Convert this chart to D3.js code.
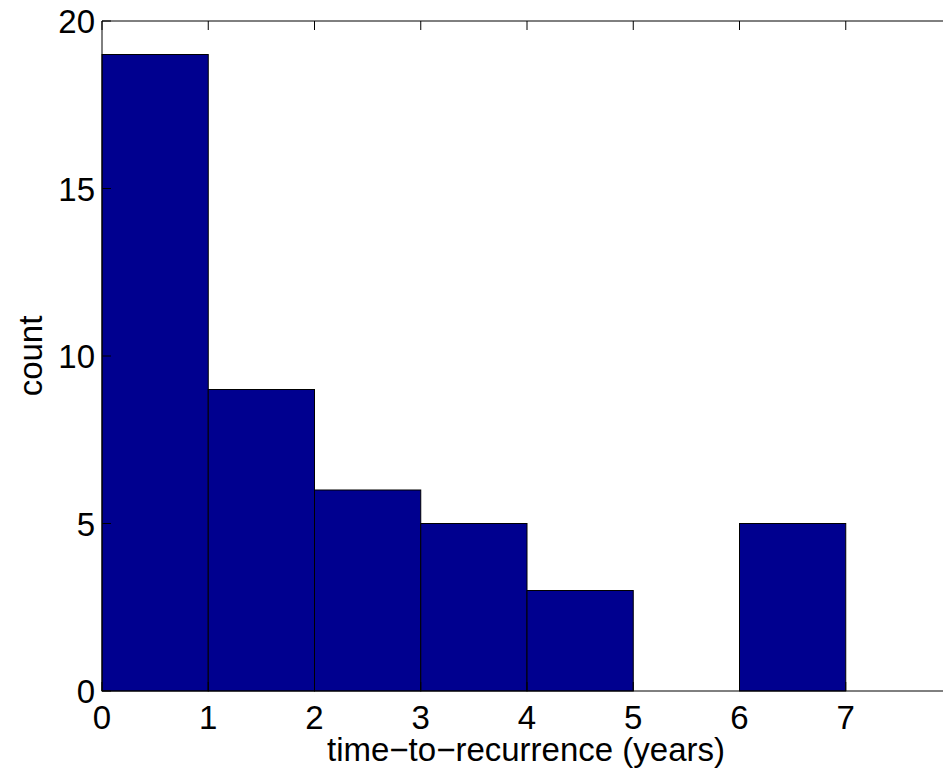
<!DOCTYPE html>
<html>
<head>
<meta charset="utf-8">
<script src="https://cdn.jsdelivr.net/npm/d3@7"></script>
<style>
  body { margin: 0; background: #fff; }
  text { font-family: "Liberation Sans", Arial, sans-serif; fill: #000; }
</style>
</head>
<body>
<div id="chart"></div>
<script>
// histogram bins (years) and counts
var binStarts = [0, 1, 2, 3, 4, 5, 6, 7];
var counts = [19, 9, 6, 5, 3, 0, 5, 0];
var xTicks = [0, 1, 2, 3, 4, 5, 6, 7, 8];
var yTicks = [0, 5, 10, 15, 20];

var W = 943, H = 771;
var margin = {top: 21, left: 102, bottom: 80};
var plotW = 850, plotH = H - margin.top - margin.bottom;

var svg = d3.select("#chart").append("svg")
  .attr("width", W).attr("height", H);

var x = d3.scaleLinear().domain([0, 8]).range([margin.left, margin.left + plotW]);
var y = d3.scaleLinear().domain([0, 20]).range([margin.top + plotH, margin.top]);

// bars
svg.append("g").selectAll("rect")
  .data(binStarts)
  .enter().append("rect")
  .attr("x", function(d) { return x(d); })
  .attr("y", function(d, i) { return y(counts[i]); })
  .attr("width", function(d) { return x(d + 1) - x(d); })
  .attr("height", function(d, i) { return y(0) - y(counts[i]); })
  .attr("fill", "#00008f")
  .attr("stroke", "#000")
  .attr("stroke-width", 1);

// axes box (MATLAB style, ticks inward)
var tickLen = 9;
var box = svg.append("g").attr("fill", "none").attr("stroke", "#000").attr("stroke-width", 1);
box.append("line").attr("x1", x(0)).attr("x2", x(8)).attr("y1", y(20)).attr("y2", y(20));
box.append("line").attr("x1", x(0)).attr("x2", x(8)).attr("y1", y(0)).attr("y2", y(0));
box.append("line").attr("x1", x(0)).attr("x2", x(0)).attr("y1", y(0)).attr("y2", y(20));
box.append("line").attr("x1", x(8)).attr("x2", x(8)).attr("y1", y(0)).attr("y2", y(20));

xTicks.forEach(function(t) {
  box.append("line").attr("x1", x(t)).attr("x2", x(t)).attr("y1", y(20)).attr("y2", y(20) + tickLen);
  box.append("line").attr("x1", x(t)).attr("x2", x(t)).attr("y1", y(0)).attr("y2", y(0) - tickLen);
});
yTicks.forEach(function(t) {
  box.append("line").attr("x1", x(0)).attr("x2", x(0) + tickLen).attr("y1", y(t)).attr("y2", y(t));
  box.append("line").attr("x1", x(8)).attr("x2", x(8) - tickLen).attr("y1", y(t)).attr("y2", y(t));
});

// tick labels
svg.append("g").selectAll("text")
  .data(xTicks.filter(function(t) { return t < 8; }))
  .enter().append("text")
  .attr("x", function(d) { return x(d); })
  .attr("y", 729)
  .attr("text-anchor", "middle")
  .style("font-size", "33px")
  .text(function(d) { return d; });

svg.append("g").selectAll("text")
  .data(yTicks)
  .enter().append("text")
  .attr("x", 95)
  .attr("y", function(d) { return y(d) + 12; })
  .attr("text-anchor", "end")
  .style("font-size", "33px")
  .text(function(d) { return d; });

// axis labels
svg.append("text")
  .attr("x", 526).attr("y", 761)
  .attr("text-anchor", "middle")
  .style("font-size", "33px")
  .text("time\u2212to\u2212recurrence (years)");

svg.append("text")
  .attr("transform", "translate(42," + (margin.top + plotH / 2) + ") rotate(-90)")
  .attr("text-anchor", "middle")
  .style("font-size", "33px")
  .text("count");
</script>
</body>
</html>
